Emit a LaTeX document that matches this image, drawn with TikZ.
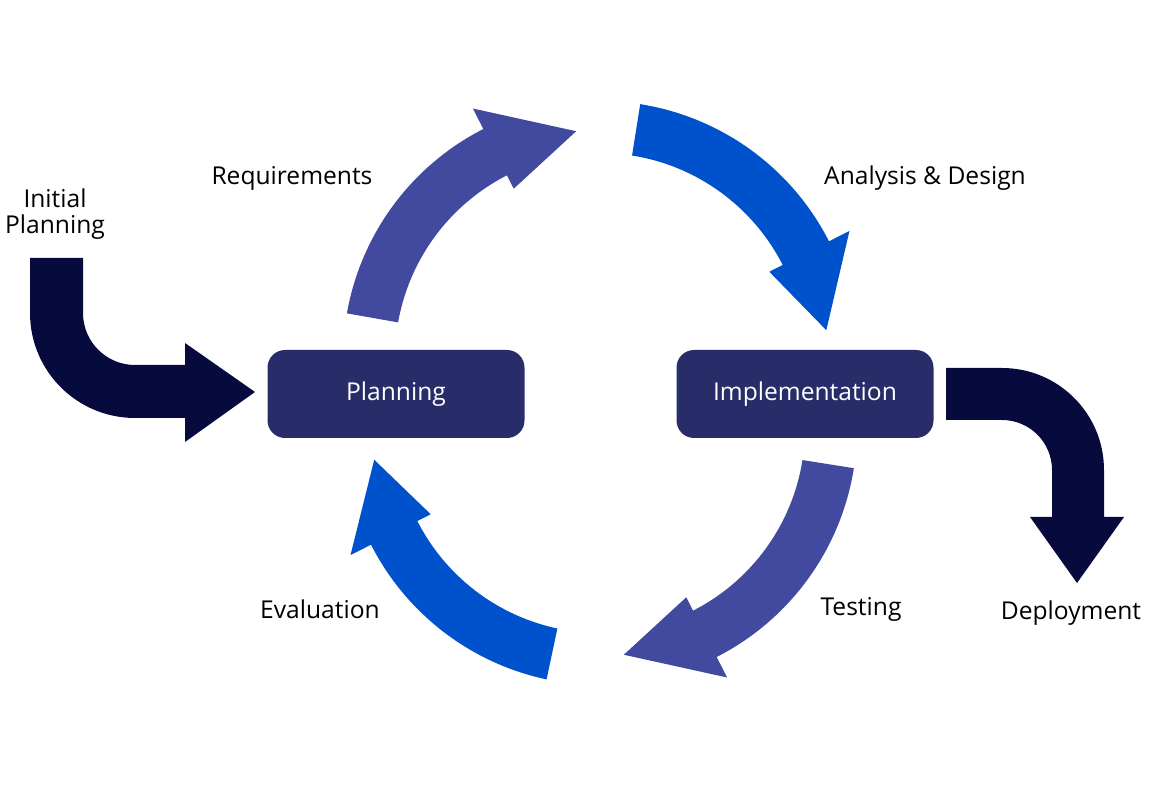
\documentclass[tikz,border=0pt]{standalone}
\usepackage{fontspec}
\setmainfont{Open Sans}
\usetikzlibrary{calc}
\definecolor{boxcol}{HTML}{282C69}
\definecolor{sidecol}{HTML}{060A3C}
\definecolor{violetcol}{HTML}{414A9E}
\definecolor{bluecol}{HTML}{0052CC}
\tikzset{
  phase/.style = {fill = boxcol, rounded corners = 10, minimum width = 257*0.02cm, minimum height = 88*0.02cm, text = white, font = \fontsize{14}{17}\selectfont},
  label/.style = {text = black, font = \fontsize{14}{17}\selectfont, align = center}
}
% curved arrow of the cycle: centre, tail angle, head base angle, tip angle, colour
\newcommand{\cyclearrow}[5]{
\fill[#5] ($(#1)+(#2:257)$) arc[start angle = #2, end angle = #3, radius = 257] -- ($(#1)+(#3:280)$) -- ($(#1)+(#4:228)$) -- ($(#1)+(#3:190)$) -- ($(#1)+(#3:205)$) arc[start angle = #3, end angle = #2, radius = 205] -- cycle;
}
\begin{document}
\begin{tikzpicture}[x = 0.02cm, y = 0.02cm]
\useasboundingbox (0, 0) rectangle (1150, 788);
\coordinate (top) at (600, 430);
\coordinate (bottom) at (600, 360);
\cyclearrow{top}{170}{117}{96}{violetcol}
\cyclearrow{top}{81}{27}{7}{bluecol}
\cyclearrow{bottom}{-9}{-63}{-84}{violetcol}
\cyclearrow{bottom}{-102}{-153}{-172}{bluecol}
\node[phase] (planning) at (396, 394) {Planning};
\node[phase] (implementation) at (805, 394) {Implementation};
% entry and exit arrows
\fill[sidecol] (30, 530) -- (30, 475) arc[start angle = 180, end angle = 270, radius = 105] -- (185, 370) -- (185, 346) -- (255, 396) -- (185, 445) -- (185, 423) -- (135, 423) arc[start angle = 270, end angle = 180, radius = 52] -- (83, 530) -- cycle;
\fill[sidecol] (946, 420) -- (1002, 420) arc[start angle = 90, end angle = 0, radius = 102] -- (1104, 271) -- (1124, 271) -- (1077, 205) -- (1030, 271) -- (1052, 271) -- (1052, 318) arc[start angle = 0, end angle = 90, radius = 50] -- (946, 368) -- cycle;
\node[label] (initial) at (55, 574) {Initial\\[-2pt]Planning};
\node[label] (requirements) at (292, 610) {Requirements};
\node[label] (analysis) at (925, 610) {Analysis \& Design};
\node[label] (evaluation) at (320, 179) {Evaluation};
\node[label] (testing) at (861, 179) {Testing};
\node[label] (deployment) at (1071, 175) {Deployment};
\end{tikzpicture}
\end{document}
